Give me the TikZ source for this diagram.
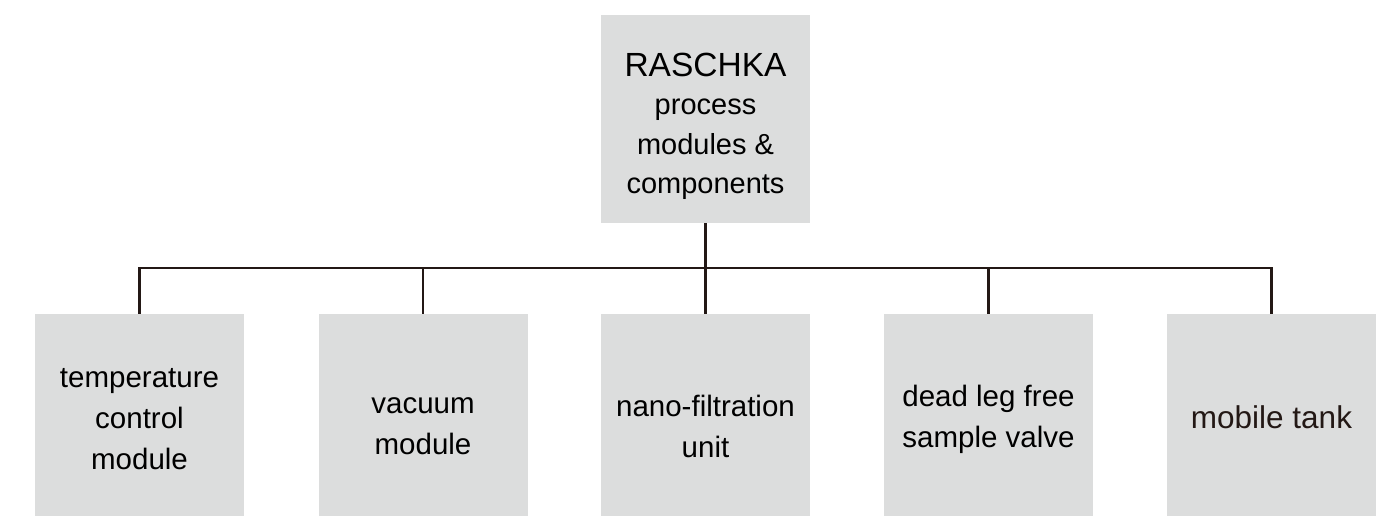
\documentclass[tikz,border=0pt]{standalone}
\usepackage{fontspec}
\setmainfont{Liberation Sans}
\definecolor{boxgray}{HTML}{DCDDDD}
\definecolor{linedark}{HTML}{231815}

\begin{document}
\begin{tikzpicture}[x=1pt, y=-1pt]

\tikzset{
  box/.style={fill=boxgray, align=center, inner sep=0pt, minimum width=209pt,
    minimum height=202pt, text depth=0pt,
    font=\fontsize{29.5}{41}\selectfont},
  conn/.style={draw=linedark, line width=2.9pt}
}

\useasboundingbox (0,0) rectangle (1383,516);

% --- Nó raiz ---
\node[box, minimum height=208pt, text height=148pt,
  font=\fontsize{29}{39}\selectfont] (top) at (705.5,119)
  {{\fontsize{33.5}{39}\selectfont RASCHKA}\\process\\ modules \&\\components};

% --- Módulos (linha de baixo) ---
% text height = altura acima da última linha de base
\node[box, text height=108pt] (tc) at (139.5,415) {temperature\\control\\module};
\node[box, text height=78pt]  (vm) at (423,415)   {vacuum\\module};
\node[box, text height=84pt]  (nf) at (705.5,415) {nano-filtration\\unit};
\node[box, text height=64pt]  (dl) at (988.5,415) {dead leg free\\sample valve};
\node[box, text height=26pt, font=\fontsize{31.5}{41}\selectfont, text=linedark]
  (mt) at (1271.5,415) {mobile tank};

% --- Barramento ---
\coordinate (bus) at (705.5,268);

% --- Linhas ---
\draw[conn] (top.south) -- (nf.north);
\draw[conn] (tc.north) |- (bus) -| (mt.north);
\draw[conn] (vm.north) -- (vm.north |- bus);
\draw[conn] (dl.north) -- (dl.north |- bus);

\end{tikzpicture}
\end{document}
